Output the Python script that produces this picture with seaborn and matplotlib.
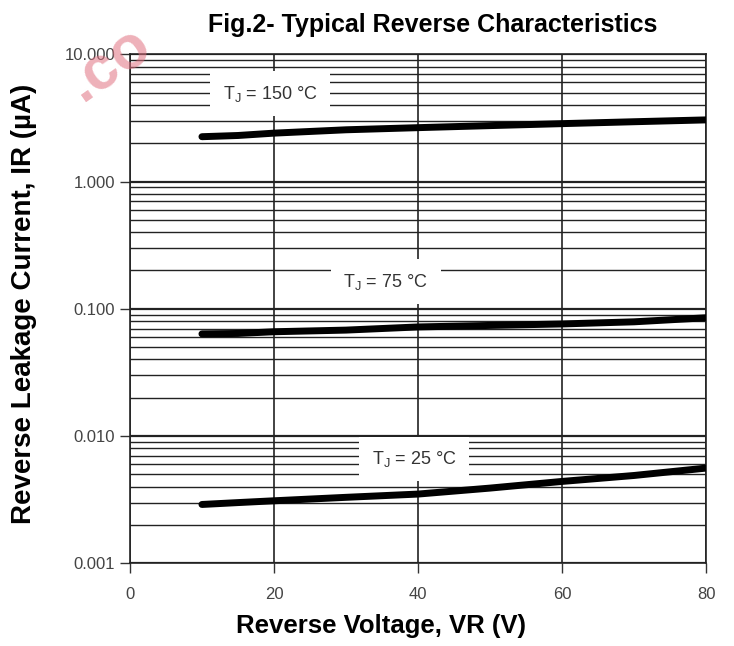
import numpy as np
import pandas as pd
import seaborn as sns
import matplotlib.pyplot as plt
from matplotlib.ticker import FixedLocator, LogLocator, NullFormatter

# values
voltage = [10, 15, 20, 30, 40, 50, 60, 70, 80]
ir_150 = [2.25, 2.3, 2.4, 2.55, 2.65, 2.75, 2.85, 2.95, 3.05]
ir_75 = [0.0635, 0.064, 0.066, 0.068, 0.072, 0.074, 0.076, 0.079, 0.085]
ir_25 = [0.0029, 0.0030, 0.0031, 0.0033, 0.0035, 0.0039, 0.0044, 0.0049, 0.0056]

curve_labels = ["T$_\\mathregular{J}$ = 150 °C", "T$_\\mathregular{J}$ = 75 °C", "T$_\\mathregular{J}$ = 25 °C"]
label_x = [19.5, 35.5, 39.5]
label_y = [4.9, 0.163, 0.0066]

y_ticks = [0.001, 0.01, 0.1, 1, 10]
y_tick_labels = ["0.001", "0.010", "0.100", "1.000", "10.000"]
x_ticks = [0, 20, 40, 60, 80]

df = pd.concat([
    pd.DataFrame({"VR": voltage, "IR": ir_150, "T": "150"}),
    pd.DataFrame({"VR": voltage, "IR": ir_75, "T": "75"}),
    pd.DataFrame({"VR": voltage, "IR": ir_25, "T": "25"}),
])

sns.set_style("white")
plt.rcParams["font.family"] = ["Liberation Sans", "DejaVu Sans"]

fig = plt.figure(figsize=(7.34, 6.46), dpi=100)
ax = fig.add_axes([0.177, 0.128, 0.785, 0.788])
ax.set_yscale("log")
ax.set_xlim(0, 80)
ax.set_ylim(0.001, 10)

# grid
ax.yaxis.set_minor_locator(LogLocator(base=10, subs=np.arange(2, 10)))
ax.yaxis.set_minor_formatter(NullFormatter())
ax.grid(which="major", axis="y", color="#222222", lw=1.6)
ax.grid(which="minor", axis="y", color="#222222", lw=1.0)
ax.grid(which="major", axis="x", color="#222222", lw=1.2)

sns.lineplot(data=df, x="VR", y="IR", units="T", estimator=None,
             color="black", lw=5, legend=False, ax=ax, zorder=4,
             solid_capstyle="round")

for txt, lx, ly in zip(curve_labels, label_x, label_y):
    ax.text(lx, ly, txt, ha="center", va="center", fontsize=13, color="#333333",
            zorder=3, bbox=dict(facecolor="white", edgecolor="none", pad=9))

ax.yaxis.set_major_locator(FixedLocator(y_ticks))
ax.set_yticklabels(y_tick_labels)
ax.set_xticks(x_ticks)
ax.tick_params(axis="both", which="major", length=7, width=1, color="#333333",
               labelsize=12, labelcolor="#444444", direction="out", bottom=True, left=True)
ax.tick_params(axis="x", which="major", pad=10)
ax.tick_params(axis="y", which="minor", length=0)
for s in ax.spines.values():
    s.set_color("#222222")
    s.set_linewidth(1.2)

ax.set_xlabel("Reverse Voltage, VR (V)", fontsize=18.5, fontweight="bold", color="black")
ax.set_ylabel("Reverse Leakage Current, IR (µA)", fontsize=20, fontweight="bold", color="black")
ax.xaxis.set_label_coords(0.436, -0.1)
ax.yaxis.set_label_coords(-0.161, 0.51)
fig.text(0.59, 0.962, "Fig.2- Typical Reverse Characteristics", ha="center", va="center",
         fontsize=18, fontweight="bold", color="black")

# faint watermark in the corner
fig.text(0.15, 0.90, ".co", color="#e07080", alpha=0.55, fontsize=44, fontweight="bold",
         rotation=35, ha="center", va="center", zorder=0)

fig.savefig("out.png", dpi=100)
